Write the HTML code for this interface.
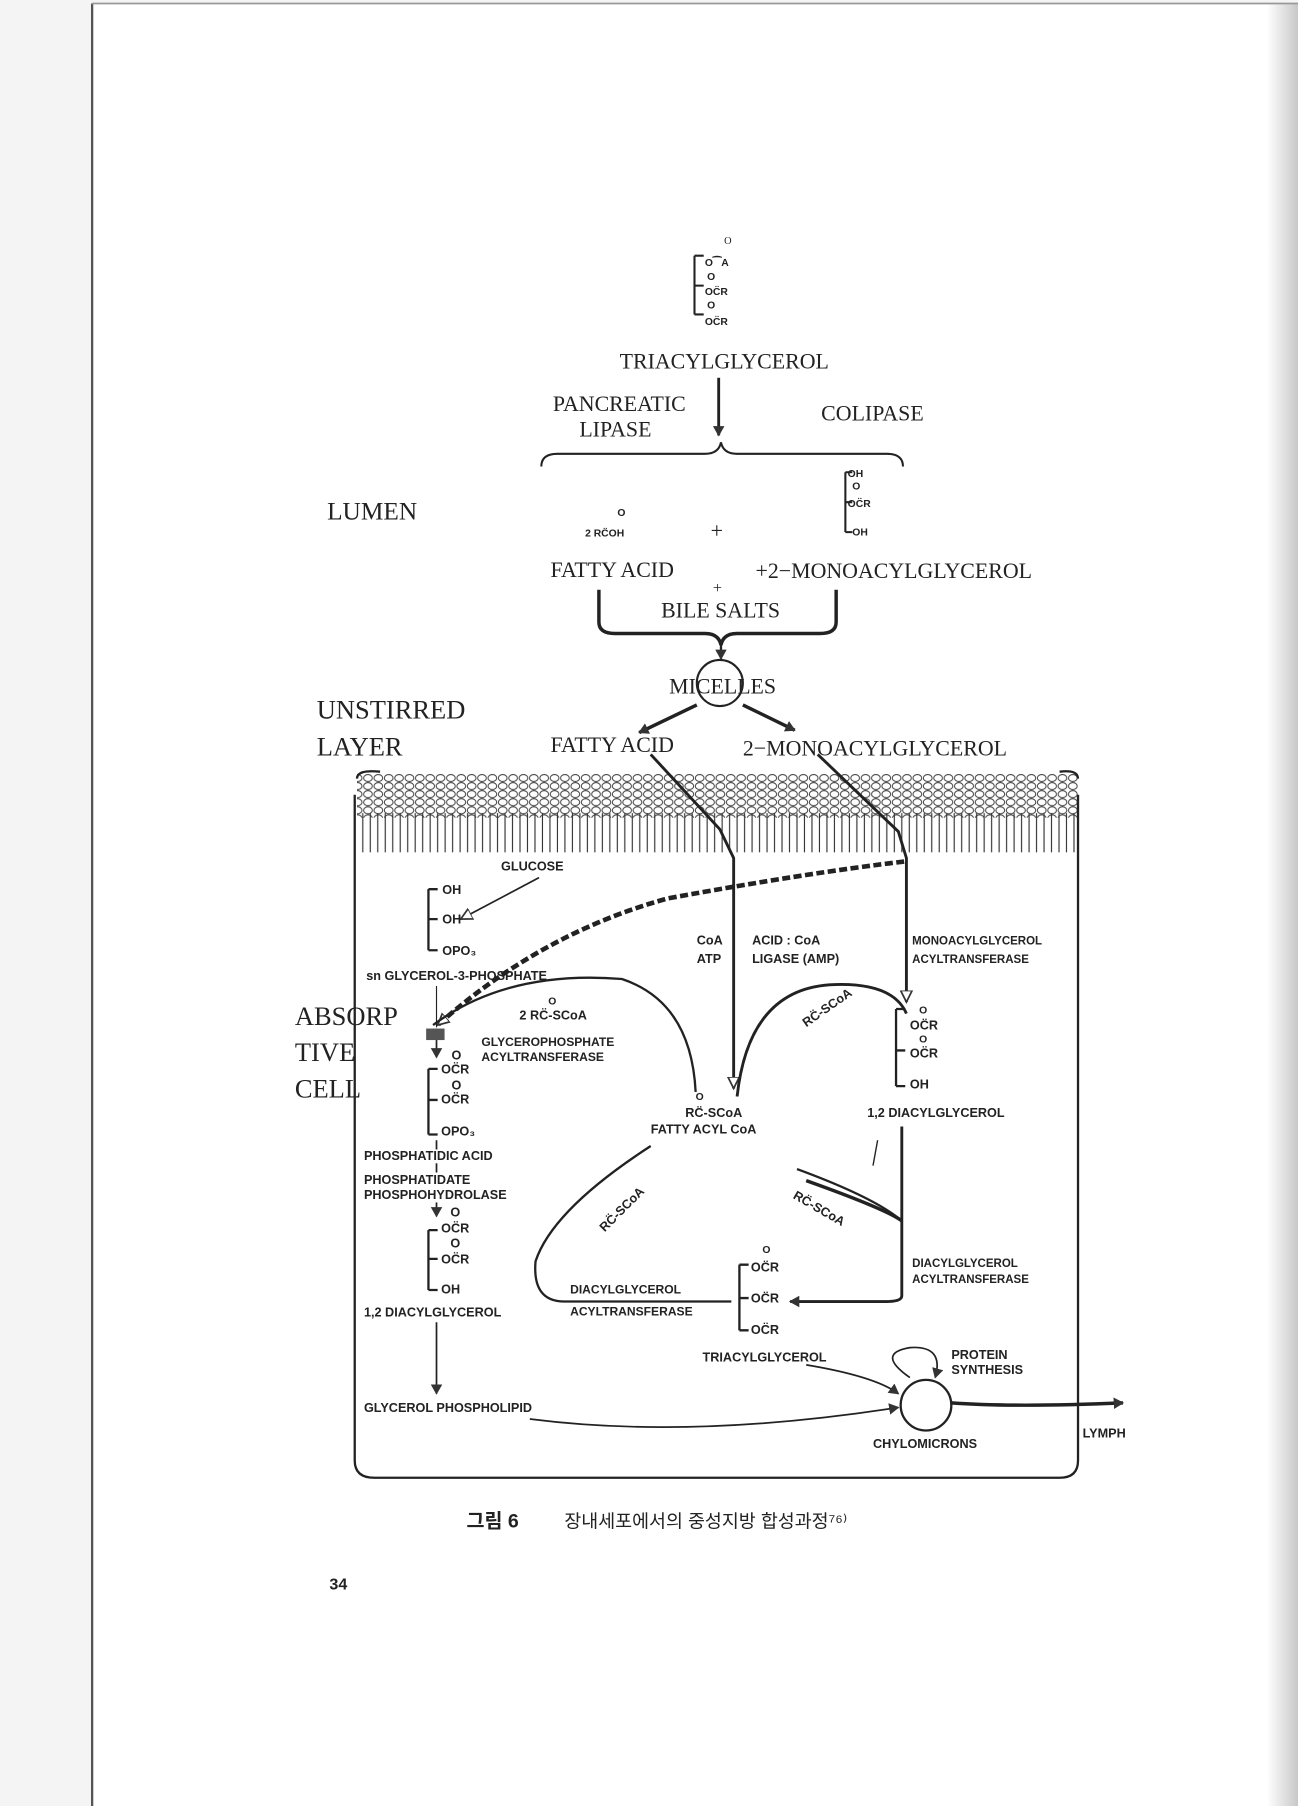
<!DOCTYPE html>
<html><head><meta charset="utf-8"><style>
html,body{margin:0;padding:0;background:#f4f4f4;}
svg{display:block}
.s{font-family:"Liberation Serif",serif;fill:#222}
.a{font-family:"Liberation Sans",sans-serif;font-weight:bold;fill:#222}
</style></head><body>
<svg width="1298" height="1806" viewBox="0 0 1127 1568" preserveAspectRatio="none" xmlns="http://www.w3.org/2000/svg">
<defs>
<marker id="ar" markerWidth="10" markerHeight="10" refX="8" refY="5" orient="auto" markerUnits="userSpaceOnUse"><path d="M0,0 L9,5 L0,10 z" fill="#333"/></marker>
<marker id="ao" markerWidth="12" markerHeight="12" refX="10" refY="6" orient="auto" markerUnits="userSpaceOnUse"><path d="M0,1 L10,6 L0,11 z" fill="#fff" stroke="#333" stroke-width="1.5"/></marker>
<pattern id="cells" width="9" height="7" patternUnits="userSpaceOnUse"><ellipse cx="4.5" cy="3.5" rx="3.8" ry="3" fill="#fff" stroke="#444" stroke-width="0.9"/></pattern>
<pattern id="villi" width="6.5" height="40" patternUnits="userSpaceOnUse"><line x1="3" y1="0" x2="3" y2="40" stroke="#333" stroke-width="1"/></pattern>
<linearGradient id="rg" x1="0" x2="1"><stop offset="0" stop-color="#fff"/><stop offset="1" stop-color="#c8c8c8"/></linearGradient>
</defs>
<rect x="79" y="3" width="1048" height="1565" fill="#fff"/>
<rect x="1100" y="3" width="27" height="1565" fill="url(#rg)"/>
<line x1="80" y1="3" x2="80" y2="1568" stroke="#555" stroke-width="2"/>
<line x1="80" y1="3" x2="1127" y2="3" stroke="#999" stroke-width="1.5"/>

<g stroke="#222" fill="none" stroke-width="1.8">
<!-- top triacylglycerol structure -->
<path d="M603,222 L603,273 M603,222 h8 M603,248 h8 M603,273 h8"/>
<!-- arrow down -->
<line x1="624" y1="328" x2="624" y2="378" stroke-width="2.5" marker-end="url(#ar)"/>
<!-- brace -->
<path d="M470,405 Q470,394 484,394 L612,394 Q624,394 626,384 Q628,394 640,394 L770,394 Q784,394 784,405"/>
<!-- monoacyl -->
<path d="M734,410 L734,462 M734,410 h6 M734,436 h6 M734,462 h6"/>
<!-- bile brace -->
<path d="M520,512 L520,540 Q520,550 534,550 L612,550 Q624,550 626,560 Q628,550 640,550 L712,550 Q726,550 726,540 L726,512" stroke-width="3"/>
<line x1="626" y1="560" x2="626" y2="572" stroke-width="2" marker-end="url(#ar)"/>
<circle cx="625" cy="593" r="20" fill="#fff"/>
<line x1="605" y1="612" x2="555" y2="636" stroke-width="3" marker-end="url(#ar)"/>
<line x1="645" y1="612" x2="690" y2="634" stroke-width="3" marker-end="url(#ar)"/>
</g>
<!-- cell -->
<rect x="310" y="672" width="626" height="38" fill="url(#cells)"/>
<rect x="310" y="706" width="626" height="34" fill="url(#villi)"/>
<g stroke="#222" fill="none" stroke-width="2">
<path d="M310,676 Q310,668 330,670 M936,676 Q936,668 920,670"/>
<path d="M308,690 L308,1268 Q308,1283 325,1283 L920,1283 Q936,1283 936,1268 L936,690"/>
<!-- entering lines -->
<path d="M565,655 L625,720 L637,745 L637,945" stroke-width="2.5" marker-end="url(#ao)"/>
<path d="M710,655 L780,722 L787,745 L787,870" stroke-width="2.5" marker-end="url(#ao)"/>
<!-- dashed -->
<path d="M785,748 Q700,758 580,780 Q470,810 380,890" stroke-width="4" stroke-dasharray="7,3" marker-end="url(#ao)"/>
<!-- glucose arrow -->
<line x1="468" y1="762" x2="400" y2="798" stroke-width="1.5" marker-end="url(#ao)"/>
<!-- glycerol bracket -->
<path d="M372,772 L372,825 M372,772 h8 M372,798 h8 M372,825 h8"/>
<!-- arc from fatty acyl CoA to glycerol-3-P -->
<path d="M604,948 Q600,870 540,850 Q440,842 376,890" stroke-width="2"/>
<rect x="370" y="893" width="16" height="10" fill="#555" stroke="none"/>
<line x1="379" y1="903" x2="379" y2="918" stroke-width="1.5" marker-end="url(#ar)"/>
<line x1="379" y1="856" x2="379" y2="892" stroke-width="1"/>
<!-- phosphatidic bracket -->
<path d="M372,928 L372,985 M372,928 h8 M372,955 h8 M372,985 h8"/>
<line x1="379" y1="990" x2="379" y2="998" stroke-width="1.5"/>
<line x1="379" y1="1010" x2="379" y2="1018" stroke-width="1.5"/>
<line x1="379" y1="1044" x2="379" y2="1056" stroke-width="1.5" marker-end="url(#ar)"/>
<path d="M372,1068 L372,1120 M372,1068 h8 M372,1093 h8 M372,1120 h8"/>
<line x1="379" y1="1148" x2="379" y2="1210" stroke-width="1.5" marker-end="url(#ar)"/>
<!-- right arc to monoacyl -->
<path d="M640,952 Q650,860 720,855 Q775,852 787,880" stroke-width="2.5"/>
<path d="M778,876 L778,943 M778,876 h8 M778,912 h8 M778,943 h8"/>
<!-- diacylglycerol down & to TAG -->
<path d="M783,978 L783,1125 Q783,1130 770,1130 L686,1130" stroke-width="2.5" marker-end="url(#ar)"/>
<path d="M700,1025 Q770,1050 783,1060" stroke-width="3"/>
<path d="M692,1015 Q760,1040 783,1060"/>
<!-- left loop to TAG -->
<path d="M565,995 Q480,1050 465,1095 Q462,1130 490,1130 L635,1130" stroke-width="2"/>
<line x1="762" y1="990" x2="758" y2="1012" stroke-width="1.2"/>
<!-- TAG bracket -->
<path d="M642,1098 L642,1155 M642,1098 h8 M642,1127 h8 M642,1155 h8"/>
<!-- chylomicrons -->
<circle cx="804" cy="1220" r="22" fill="#fff"/>
<path d="M790,1196 Q760,1175 790,1170 Q820,1168 812,1196" stroke-width="1.5" marker-end="url(#ar)"/>
<path d="M700,1185 Q760,1195 780,1210" stroke-width="1.5" marker-end="url(#ar)"/>
<path d="M460,1232 Q600,1250 780,1222" stroke-width="1.5" marker-end="url(#ar)"/>
<path d="M826,1218 Q880,1222 975,1218" stroke-width="3" marker-end="url(#ar)"/>
</g>

<g class="s" font-size="9" text-anchor="middle"><text x="632" y="212">O</text></g>
<g class="a" font-size="9">
<text x="612" y="231">O⁀A</text><text x="614" y="243">O</text><text x="612" y="256">OC̈R</text><text x="614" y="268">O</text><text x="612" y="282">OC̈R</text>
<text x="736" y="414">OH</text><text x="740" y="425">O</text><text x="736" y="440">OC̈R</text><text x="740" y="465">OH</text>
<text x="536" y="448">O</text><text x="508" y="466">2 RC̈OH</text>
</g>
<g class="s" font-size="19">
<text x="538" y="320">TRIACYLGLYCEROL</text>
<text x="480" y="357">PANCREATIC</text><text x="503" y="379">LIPASE</text>
<text x="713" y="365">COLIPASE</text>
<text x="284" y="451" font-size="22">LUMEN</text>
<text x="617" y="467">+</text>
<text x="478" y="501">FATTY ACID</text>
<text x="656" y="502">+2−MONOACYLGLYCEROL</text>
<text x="619" y="515" font-size="14">+</text>
<text x="574" y="536">BILE SALTS</text>
<text x="581" y="602">MICELLES</text>
<text x="275" y="624" font-size="23">UNSTIRRED</text>
<text x="275" y="656" font-size="23">LAYER</text>
<text x="478" y="653">FATTY ACID</text>
<text x="645" y="656">2−MONOACYLGLYCEROL</text>
<text x="256" y="890" font-size="23">ABSORP</text>
<text x="256" y="921" font-size="23">TIVE</text>
<text x="256" y="953" font-size="23">CELL</text>
</g>
<g class="a" font-size="11">
<text x="435" y="756">GLUCOSE</text>
<text x="384" y="776">OH</text><text x="384" y="802">OH</text><text x="384" y="829">OPO₃</text>
<text x="318" y="851">sn GLYCEROL-3-PHOSPHATE</text>
<text x="476" y="872" font-size="9">O</text><text x="451" y="885">2 RC̈-SCoA</text>
<text x="418" y="908" font-size="10.5">GLYCEROPHOSPHATE</text><text x="418" y="921" font-size="10.5">ACYLTRANSFERASE</text>
<text x="392" y="920">O</text><text x="383" y="932">OC̈R</text><text x="392" y="946">O</text><text x="383" y="958">OC̈R</text><text x="383" y="986">OPO₃</text>
<text x="316" y="1007">PHOSPHATIDIC ACID</text>
<text x="316" y="1028">PHOSPHATIDATE</text><text x="316" y="1041">PHOSPHOHYDROLASE</text>
<text x="391" y="1056">O</text><text x="383" y="1070">OC̈R</text><text x="391" y="1083">O</text><text x="383" y="1097">OC̈R</text><text x="383" y="1123">OH</text>
<text x="316" y="1143">1,2 DIACYLGLYCEROL</text>
<text x="316" y="1226">GLYCEROL PHOSPHOLIPID</text>
<text x="605" y="820">CoA</text><text x="605" y="836">ATP</text>
<text x="653" y="820">ACID : CoA</text><text x="653" y="836">LIGASE (AMP)</text>
<text x="792" y="820" font-size="10">MONOACYLGLYCEROL</text><text x="792" y="836" font-size="10">ACYLTRANSFERASE</text>
<text x="604" y="955" font-size="9">O</text><text x="595" y="970">RC̈-SCoA</text>
<text x="565" y="984">FATTY ACYL CoA</text>
<text x="798" y="880" font-size="9">O</text><text x="790" y="894">OC̈R</text><text x="798" y="905" font-size="9">O</text><text x="790" y="918">OC̈R</text><text x="790" y="945">OH</text>
<text x="753" y="970">1,2 DIACYLGLYCEROL</text>
<text x="700" y="892" transform="rotate(-35 700 892)">RC̈-SCoA</text>
<text x="525" y="1070" transform="rotate(-45 525 1070)">RC̈-SCoA</text>
<text x="688" y="1040" transform="rotate(30 688 1040)">RC̈-SCoA</text>
<text x="792" y="1100" font-size="10">DIACYLGLYCEROL</text><text x="792" y="1114" font-size="10">ACYLTRANSFERASE</text>
<text x="495" y="1123" font-size="10.5">DIACYLGLYCEROL</text><text x="495" y="1142" font-size="10.5">ACYLTRANSFERASE</text>
<text x="662" y="1088" font-size="9">O</text><text x="652" y="1104">OC̈R</text><text x="652" y="1131">OC̈R</text><text x="652" y="1158">OC̈R</text>
<text x="610" y="1182">TRIACYLGLYCEROL</text>
<text x="826" y="1180">PROTEIN</text><text x="826" y="1193">SYNTHESIS</text>
<text x="758" y="1257">CHYLOMICRONS</text>
<text x="940" y="1248">LYMPH</text>
<text x="286" y="1380" font-size="14">34</text>
</g>
<text x="405" y="1326" font-family="Liberation Sans, Noto Sans CJK KR, sans-serif" font-size="17" font-weight="bold" fill="#222">그림 6</text>
<text x="490" y="1326" font-family="Liberation Sans, Noto Sans CJK KR, sans-serif" font-size="16" fill="#222">장내세포에서의 중성지방 합성과정⁷⁶⁾</text>
</svg>
</body></html>
